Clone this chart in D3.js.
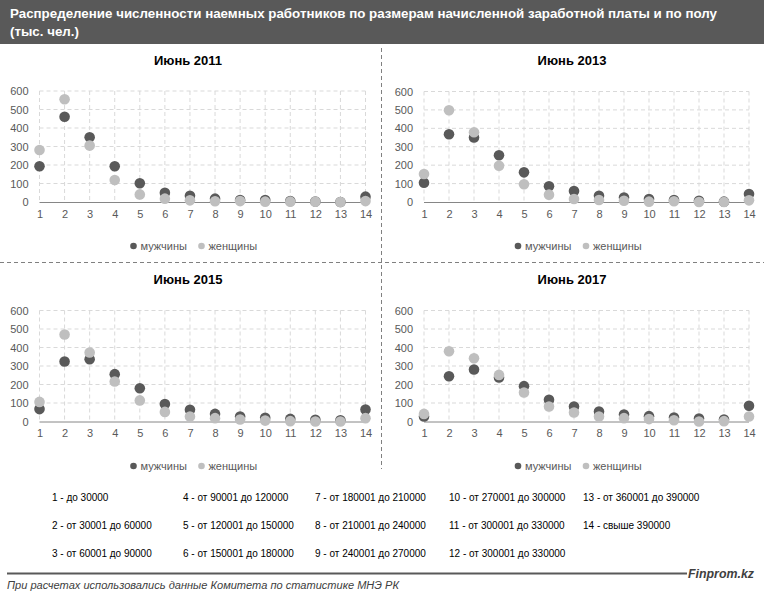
<!DOCTYPE html>
<html>
<head>
<meta charset="utf-8">
<script src="https://cdn.jsdelivr.net/npm/d3@7"></script>
<style>
  body { margin: 0; background: #fff; }
  text { font-family: "Liberation Sans", Arial, sans-serif; }
</style>
</head>
<body>
<div id="chart"></div>
<script>
let width = 764, height = 601;

// Data
const categories = [1, 2, 3, 4, 5, 6, 7, 8, 9, 10, 11, 12, 13, 14];
const yTicks = [0, 100, 200, 300, 400, 500, 600];
const years = ['Июнь 2011', 'Июнь 2013', 'Июнь 2015', 'Июнь 2017'];
const men2011 = [193, 461, 350, 193, 101, 50, 34, 18, 11, 11, 5, 3, 0, 29];
const women2011 = [281, 555, 305, 119, 41, 18, 9, 4, 5, 2, 2, 2, 0, 5];
const men2013 = [105, 368, 350, 254, 161, 85, 60, 34, 24, 16, 11, 7, 2, 43];
const women2013 = [152, 498, 379, 197, 96, 40, 16, 11, 7, 2, 4, 0, 0, 9];
const men2015 = [67, 324, 337, 256, 180, 94, 63, 41, 27, 20, 14, 9, 7, 65];
const women2015 = [106, 470, 373, 216, 114, 52, 27, 18, 11, 5, 2, 0, 0, 18];
const men2017 = [27, 245, 281, 238, 191, 117, 81, 54, 38, 29, 22, 16, 11, 85];
const women2017 = [41, 380, 342, 252, 157, 81, 49, 27, 18, 13, 7, 0, 2, 27];
const seriesNames = ['мужчины', 'женщины'];
const notes = [
  '1 - до 30000', '2 - от 30001 до 60000', '3 - от 60001 до 90000',
  '4 - от 90001 до 120000', '5 - от 120001 до 150000', '6 - от 150001 до 180000',
  '7 - от 180001 до 210000', '8 - от 210001 до 240000', '9 - от 240001 до 270000',
  '10 - от 270001 до 300000', '11 - от 300001 до 330000', '12 - от 300001 до 330000',
  '13 - от 360001 до 390000', '14 - свыше 390000'
];

const panelData = [
  [men2011, women2011], [men2013, women2013], [men2015, women2015], [men2017, women2017]
];
const colors = ['#595959', '#bfbfbf'];

// panel geometry: plot left/right, top (600) and bottom (0)
const panels = [
  { x0: 39.5, x1: 365.5, top: 91, bottom: 202, tx: 188, ty: 65, ly: 246 },
  { x0: 424, x1: 749, top: 91.5, bottom: 202, tx: 572, ty: 65, ly: 246 },
  { x0: 39.5, x1: 365.5, top: 310.5, bottom: 421.5, tx: 188, ty: 284, ly: 466 },
  { x0: 424, x1: 749, top: 310.5, bottom: 421.5, tx: 572, ty: 284, ly: 466 }
];

const svg = d3.select('#chart').append('svg')
  .attr('width', width)
  .attr('height', height);

// Header
svg.append('rect').attr('x', 0).attr('y', 0).attr('width', width).attr('height', 44).attr('fill', '#595959');
svg.append('text').attr('x', 10).attr('y', 18)
  .attr('fill', '#fff').attr('font-size', 13).attr('font-weight', 'bold')
  .attr('textLength', 707).attr('lengthAdjust', 'spacingAndGlyphs')
  .text('Распределение численности наемных работников по размерам начисленной заработной платы и по полу');
svg.append('text').attr('x', 10).attr('y', 36)
  .attr('fill', '#fff').attr('font-size', 13).attr('font-weight', 'bold')
  .attr('textLength', 69).attr('lengthAdjust', 'spacingAndGlyphs')
  .text('(тыс. чел.)');

// Separators
svg.append('line').attr('x1', 381.5).attr('x2', 381.5).attr('y1', 48).attr('y2', 469)
  .attr('stroke', '#808080').attr('stroke-dasharray', '4,3');
svg.append('line').attr('x1', 0).attr('x2', width).attr('y1', 262.5).attr('y2', 262.5)
  .attr('stroke', '#808080').attr('stroke-dasharray', '4,3');

panels.forEach((p, i) => {
  const g = svg.append('g');
  const x = d3.scalePoint().domain(categories).range([p.x0, p.x1]);
  const y = d3.scaleLinear().domain([0, 600]).range([p.bottom, p.top]);

  // grid
  g.selectAll('.hgrid').data(yTicks.slice(1)).join('line')
    .attr('x1', p.x0).attr('x2', p.x1)
    .attr('y1', d => y(d)).attr('y2', d => y(d))
    .attr('stroke', '#d9d9d9').attr('stroke-dasharray', '4,3');
  g.selectAll('.vgrid').data(categories).join('line')
    .attr('x1', d => x(d)).attr('x2', d => x(d))
    .attr('y1', p.top).attr('y2', p.bottom)
    .attr('stroke', '#d9d9d9').attr('stroke-dasharray', '4,3');

  // y axis labels
  const yAxis = g.append('g').attr('transform', `translate(${p.x0 - 11},0)`)
    .call(d3.axisLeft(y).tickValues(yTicks).tickSize(0).tickPadding(0));
  yAxis.select('.domain').remove();
  yAxis.selectAll('text').attr('font-size', 11).attr('fill', '#595959')
    .attr('font-family', '"Liberation Sans", Arial, sans-serif');

  // x axis
  const xAxis = g.append('g').attr('transform', `translate(0,${p.bottom})`)
    .call(d3.axisBottom(x).tickSize(0).tickPadding(8));
  xAxis.select('.domain').attr('stroke', '#868686').attr('d', `M${p.x0},0.5H${p.x1}`);
  xAxis.selectAll('text').attr('font-size', 11).attr('fill', '#595959')
    .attr('font-family', '"Liberation Sans", Arial, sans-serif');

  // points
  panelData[i].forEach((vals, s) => {
    g.append('g').selectAll('circle').data(vals).join('circle')
      .attr('cx', (d, k) => x(categories[k]))
      .attr('cy', d => y(d))
      .attr('r', 5.3)
      .attr('fill', colors[s]);
  });

  // title
  g.append('text').attr('x', p.tx).attr('y', p.ty).attr('text-anchor', 'middle')
    .attr('font-size', 13).attr('font-weight', 'bold').attr('fill', '#000')
    .text(years[i]);

  // legend
  const lx = [p.x0 + 94, p.x0 + 162];
  seriesNames.forEach((n, s) => {
    g.append('circle').attr('cx', lx[s]).attr('cy', p.ly).attr('r', 3.3).attr('fill', colors[s]);
    g.append('text').attr('x', lx[s] + 7).attr('y', p.ly + 4)
      .attr('font-size', 11).attr('fill', '#595959').text(n);
  });
});

// Category notes
const noteCols = [52, 183, 315, 449, 583];
const noteRows = [501, 529, 557];
svg.append('g').selectAll('text').data(notes).join('text')
  .attr('x', (d, k) => noteCols[Math.floor(k / 3)])
  .attr('y', (d, k) => noteRows[k % 3])
  .attr('font-size', 10).attr('fill', '#000')
  .text(d => d);

// Footer
svg.append('line').attr('x1', 7).attr('x2', 687).attr('y1', 573.5).attr('y2', 573.5)
  .attr('stroke', '#595959').attr('stroke-width', 2);
svg.append('text').attr('x', 688).attr('y', 578)
  .attr('font-size', 12.5).attr('font-weight', 'bold').attr('font-style', 'italic').attr('fill', '#404040')
  .attr('textLength', 66).attr('lengthAdjust', 'spacingAndGlyphs')
  .text('Finprom.kz');
svg.append('text').attr('x', 7).attr('y', 589)
  .attr('font-size', 10).attr('font-style', 'italic').attr('fill', '#404040')
  .attr('textLength', 392).attr('lengthAdjust', 'spacingAndGlyphs')
  .text('При расчетах использовались данные Комитета по статистике МНЭ РК');
</script>
</body>
</html>
